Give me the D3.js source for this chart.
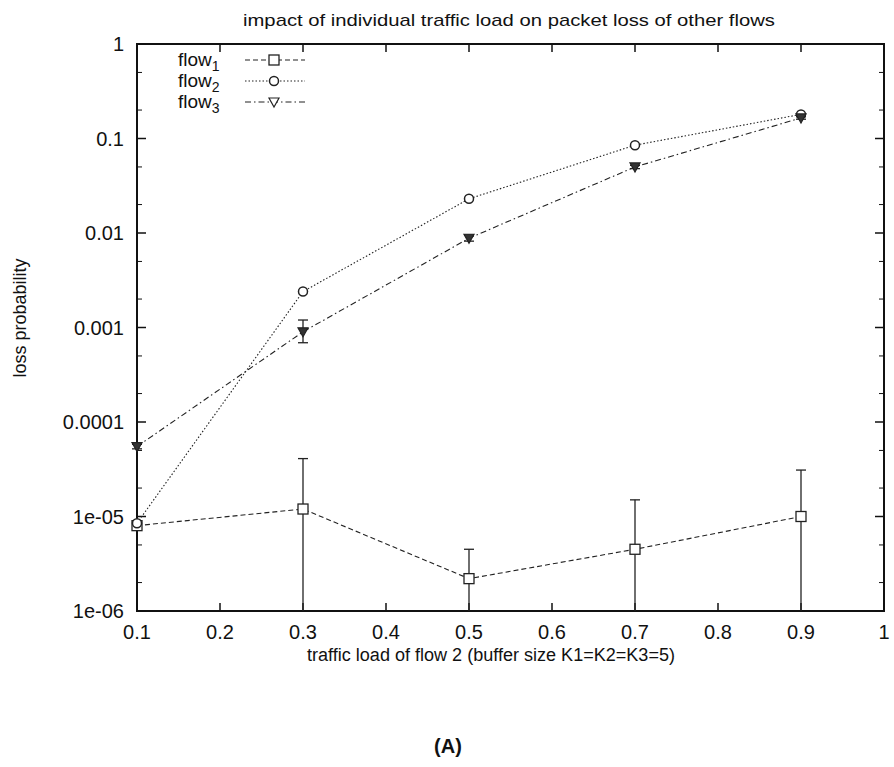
<!DOCTYPE html>
<html>
<head>
<meta charset="utf-8">
<title>loss probability</title>
<script src="https://d3js.org/d3.v7.min.js"></script>
<style>
  body { margin: 0; background: #fff; }
  svg { font-family: "Liberation Sans", Arial, sans-serif; fill: #111; }
  .frame { fill: none; stroke: #111; stroke-width: 2px; }
  .tick-lbl { font-size: 20px; }
  .series { fill: none; stroke: #222; stroke-width: 1.1px; }
  .ebar { stroke: #222; stroke-width: 1.3px; }
</style>
</head>
<body>
<svg width="894" height="767"></svg>
<script>
// data
var loads = [0.1, 0.3, 0.5, 0.7, 0.9];
var flow1 = [8e-6, 1.2e-5, 2.2e-6, 4.5e-6, 1.0e-5];
var flow1Lo = [7.6e-6, 1e-6, 1e-6, 1e-6, 1e-6];
var flow1Hi = [8.6e-6, 4.1e-5, 4.5e-6, 1.5e-5, 3.1e-5];
var flow2 = [8.5e-6, 2.4e-3, 2.3e-2, 8.5e-2, 0.18];
var flow3 = [5.5e-5, 9.0e-4, 8.8e-3, 5.0e-2, 0.165];
var flow3Lo = [5.2e-5, 6.9e-4, 8.2e-3, 4.8e-2, 0.16];
var flow3Hi = [5.8e-5, 1.2e-3, 9.5e-3, 5.2e-2, 0.17];
var xTicks = [0.1, 0.2, 0.3, 0.4, 0.5, 0.6, 0.7, 0.8, 0.9, 1];
var yTicks = [1e-6, 1e-5, 1e-4, 1e-3, 1e-2, 1e-1, 1];
var yTickLabels = ["1e-06", "1e-05", "0.0001", "0.001", "0.01", "0.1", "1"];

var svg = d3.select("svg");
var L = 137, R = 884, T = 44, B = 611;

var x = d3.scaleLinear().domain([0.1, 1]).range([L, R]);
var y = d3.scaleLog().domain([1e-6, 1]).range([B, T]);

// frame
svg.append("rect").attr("class", "frame")
    .attr("x", L).attr("y", T).attr("width", R - L).attr("height", B - T);

// x ticks (bottom + mirrored top)
xTicks.forEach(function (t) {
    svg.append("line").attr("x1", x(t)).attr("x2", x(t)).attr("y1", B).attr("y2", B - 8)
        .attr("stroke", "#111").attr("stroke-width", 1.5);
    svg.append("line").attr("x1", x(t)).attr("x2", x(t)).attr("y1", T).attr("y2", T + 8)
        .attr("stroke", "#111").attr("stroke-width", 1.5);
    svg.append("text").attr("class", "tick-lbl")
        .attr("x", x(t)).attr("y", B + 28).attr("text-anchor", "middle")
        .text(t === 1 ? "1" : t.toFixed(1));
});

// y ticks, major and minor
yTicks.forEach(function (t, i) {
    [L, R].forEach(function (xx, k) {
        var dir = k === 0 ? 1 : -1;
        svg.append("line").attr("x1", xx).attr("x2", xx + dir * 9)
            .attr("y1", y(t)).attr("y2", y(t)).attr("stroke", "#111").attr("stroke-width", 1.5);
        if (i < yTicks.length - 1) {
            [2, 5].forEach(function (m) {
                svg.append("line").attr("x1", xx).attr("x2", xx + dir * 5)
                    .attr("y1", y(t * m)).attr("y2", y(t * m)).attr("stroke", "#111");
            });
        }
    });
    svg.append("text").attr("class", "tick-lbl")
        .attr("x", 124).attr("y", y(t) + 7).attr("text-anchor", "end")
        .text(yTickLabels[i]);
});

// titles
svg.append("text").attr("x", 509).attr("y", 26).attr("text-anchor", "middle")
    .attr("textLength", 532).attr("lengthAdjust", "spacingAndGlyphs")
    .style("font-size", "17px").text("impact of individual traffic load on packet loss of other flows");
svg.append("text").attr("x", 491).attr("y", 661).attr("text-anchor", "middle")
    .attr("textLength", 368).attr("lengthAdjust", "spacingAndGlyphs")
    .style("font-size", "18px").text("traffic load of flow 2 (buffer size K1=K2=K3=5)");
svg.append("text").attr("transform", "translate(26,318) rotate(-90)").attr("text-anchor", "middle")
    .style("font-size", "18px").text("loss probability");
svg.append("text").attr("x", 448).attr("y", 753).attr("text-anchor", "middle")
    .style("font-size", "20px").style("font-weight", "bold").text("(A)");

var series = [
    { name: "1", vals: flow1, lo: flow1Lo, hi: flow1Hi, dash: "5,3", mark: "square" },
    { name: "2", vals: flow2, lo: null, hi: null, dash: "1.5,2", mark: "circle" },
    { name: "3", vals: flow3, lo: flow3Lo, hi: flow3Hi, dash: "6,3,1.5,3", mark: "tri" }
];

function drawMark(g, type, cx, cy) {
    if (type === "square") {
        g.append("rect").attr("x", cx - 5).attr("y", cy - 5).attr("width", 10).attr("height", 10)
            .attr("fill", "#fff").attr("stroke", "#222").attr("stroke-width", 1.3);
    } else if (type === "circle") {
        g.append("circle").attr("cx", cx).attr("cy", cy).attr("r", 4.5)
            .attr("fill", "#fff").attr("stroke", "#222").attr("stroke-width", 1.5);
    } else {
        g.append("path").attr("d", "M" + (cx - 5) + "," + (cy - 4) + "L" + (cx + 5) + "," + (cy - 4) + "L" + cx + "," + (cy + 5) + "Z")
            .attr("fill", "#333").attr("stroke", "#222").attr("stroke-width", 1.2);
    }
}

var line = d3.line().x(function (d) { return x(d[0]); }).y(function (d) { return y(d[1]); });

series.forEach(function (s) {
    var g = svg.append("g");
    g.append("path").attr("class", "series").attr("stroke-dasharray", s.dash)
        .attr("d", line(loads.map(function (l, i) { return [l, s.vals[i]]; })));
    if (s.lo) {
        loads.forEach(function (l, i) {
            var xx = x(l);
            g.append("line").attr("class", "ebar").attr("x1", xx).attr("x2", xx)
                .attr("y1", y(s.lo[i])).attr("y2", y(s.hi[i]));
            g.append("line").attr("class", "ebar").attr("x1", xx - 5).attr("x2", xx + 5)
                .attr("y1", y(s.hi[i])).attr("y2", y(s.hi[i]));
            if (s.lo[i] > 1e-6) {
                g.append("line").attr("class", "ebar").attr("x1", xx - 5).attr("x2", xx + 5)
                    .attr("y1", y(s.lo[i])).attr("y2", y(s.lo[i]));
            }
        });
    }
    loads.forEach(function (l, i) { drawMark(g, s.mark, x(l), y(s.vals[i])); });
});

// legend
series.forEach(function (s, i) {
    var ly = 66 + i * 21;
    var t = svg.append("text").attr("x", 178).attr("y", ly).style("font-size", "19px");
    t.append("tspan").text("flow");
    t.append("tspan").attr("dy", 5).style("font-size", "14px").text(s.name);
    svg.append("line").attr("class", "series").attr("stroke-dasharray", s.dash)
        .attr("x1", 245).attr("x2", 305).attr("y1", ly - 6).attr("y2", ly - 6);
    var g = svg.append("g");
    drawMark(g, s.mark, 274, ly - 6);
    if (s.mark === "tri") g.select("path").attr("fill", "#fff");
});
</script>
</body>
</html>
